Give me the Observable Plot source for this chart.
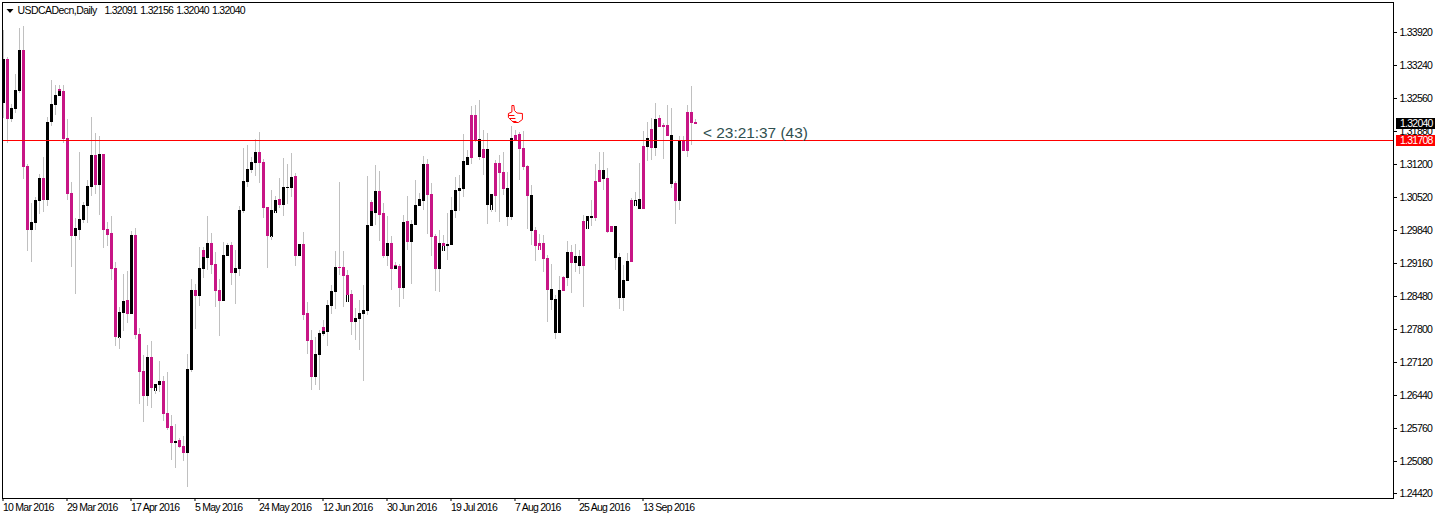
<!DOCTYPE html>
<html>
<head>
<meta charset="utf-8">
<style>html,body{margin:0;padding:0;background:#fff}svg{display:block}svg text{letter-spacing:-0.75px}svg .ohlc text{word-spacing:1px}svg .timer text{letter-spacing:0}svg .title text{letter-spacing:-0.55px}</style>
<script src="https://cdn.jsdelivr.net/npm/d3@7"></script>
<script src="https://cdn.jsdelivr.net/npm/@observablehq/plot@0.6"></script>
</head>
<body>
<div id="chart"></div>
<script>
// Prices are given in points (1e-5)
const direction = "BMBBBMMBBBMBBBBMMMBBBBBMBMMMMBBMBMMMBMBBMMMBMMBBMBBBMMMBBMBBBBBBMMMBBMBBBMBMMMBBBBBBMMMMBBBBBBMMBMBMBMBBBBMMMBBBBBBBBMMBMBBMMMBBMMMMBMMMMBBBMBMBBMBBMMBMMBBBBMBBMBMBMMMBMBMM";
const bodyTop = [133384,133384,132375,132745,133570,133570,131179,130025,130479,130932,130932,132086,132457,132642,132725,132725,131756,130623,129902,130087,130376,130767,131406,131406,131427,131427,129881,129799,129078,128171,128398,128418,129758,129758,127718,126955,127244,127244,126687,126749,126749,126090,125822,125513,125533,125410,126996,128624,128624,129078,129304,129593,129593,129160,128624,129345,129552,129552,129078,130273,130870,131118,131262,131468,131468,131262,130335,130273,130479,130499,130747,130747,130953,130973,129572,129572,128150,127594,127305,127738,127779,128315,128604,129098,129098,129098,128933,128542,128047,128150,128212,129964,130252,130664,130664,130211,129593,129593,129119,129119,130025,130046,129984,130376,130499,131221,131221,130602,129737,129593,129531,129572,130273,130685,130726,131282,131365,132230,132230,131736,131530,131530,130602,131241,131241,131056,130726,131756,131818,131839,131550,131179,130582,129861,129593,129593,129284,128645,128439,128624,128892,129407,129407,129325,129325,130046,130149,130149,130870,131097,131097,130932,129943,129943,129304,128830,129222,130479,130479,130499,131592,131756,131942,132148,132168,132024,132024,131818,130829,131695,131695,132292,132292,132091];
const bodyBottom = [132478,132148,132148,132354,132725,131159,129861,129861,130005,130458,130479,130479,132086,132436,132622,131736,130602,129737,129737,129861,130067,130355,130747,130788,130788,129861,129758,129057,127656,127635,128150,128130,128130,127697,126935,126440,126440,126605,126543,126667,126069,125781,125472,125472,125389,125265,125265,126976,128501,128501,129057,129284,129139,128604,128398,128398,129325,128975,128975,129057,130252,130850,131097,131241,131241,130314,129737,129716,130211,130376,130376,130726,130726,129325,129325,128109,127573,126832,126832,127285,127718,127759,128295,128583,129078,128913,128521,127965,127965,128027,128130,128192,129943,130211,130170,129325,129325,129057,129057,128665,128665,129613,129613,129964,130355,130458,130582,129716,129057,129057,129428,129531,129552,130252,130664,130705,131200,131344,131715,131365,131344,130376,130273,130561,131035,130705,130128,130128,131715,131530,131159,130561,129840,129531,129448,129263,128624,128418,127738,127738,128604,128872,129181,129181,129119,129119,129881,130108,130108,130850,130912,129819,129819,129284,128459,128459,128810,129201,130355,130293,130293,131571,131550,131550,131983,131983,131798,130808,130458,130458,131488,131488,132065,132040];
const high = [133982,133425,132457,133075,134023,134064,131221,130417,130541,131015,131365,132189,132952,132848,132848,132848,132148,130850,130108,131468,130438,130891,132189,131859,131798,131427,130025,130149,129201,128274,128954,129016,129840,129902,127841,127285,127491,127573,126687,127161,126852,126935,126049,125863,125575,125616,127305,128851,128748,129510,129510,130149,129799,129407,128851,129613,129593,129613,129448,130355,131550,131612,131365,131736,131880,131324,130335,130685,130561,130932,131344,131221,131447,131035,129572,129819,128377,127800,127656,127800,128006,128418,128727,129428,130850,129428,129036,128624,128253,128418,128727,130973,130479,131200,131076,130417,130149,129737,129201,129160,130170,130561,130067,130891,130623,131385,131324,130829,129778,129861,129758,130211,130541,130953,130994,131839,131509,132416,132436,132539,131921,131859,130602,131303,131406,131468,131056,132004,131921,131880,131901,131200,130788,129922,129778,129758,129345,129160,128521,128913,128913,129634,129552,129572,129448,130170,130149,130479,131221,131468,131468,131138,129943,129943,129387,129139,129387,130520,130644,131241,131901,132086,132168,132478,132230,132065,132436,132375,130870,131798,131798,132436,132828,132156];
const low = [132168,131653,132086,132272,132684,130912,129428,129201,129861,130190,130232,130355,132004,132230,132622,131653,130479,129098,128542,129655,130005,130005,130561,130602,130170,129490,129531,128830,127470,127409,127779,127944,128130,127615,126275,125904,126234,126193,126481,126522,125925,125739,125121,124956,125369,125101,124565,126935,127821,128295,128872,129036,128954,128274,127676,128398,129325,128727,128336,128913,130211,130747,131035,130973,130829,130108,129078,129655,130211,130314,130149,130396,130541,129119,129325,128006,127305,126564,126667,126564,127676,127470,128130,128233,128933,128274,128377,127697,127594,127388,126749,128109,129943,129964,129634,129284,129119,128624,129057,128274,128439,129448,128748,129964,130355,130273,129778,129325,128604,128583,129428,129242,129552,130108,130252,130541,131200,131221,131674,131303,130994,129984,130232,130232,130025,130582,129943,130067,131715,130891,131097,129881,129552,129222,129448,128995,127965,128212,127615,127738,128604,128707,128562,128995,128954,128274,129881,129943,130046,130850,130685,129799,129819,129036,128233,128192,128810,129201,130355,130293,130293,131282,131303,131385,131983,131324,131798,130726,129984,130273,131488,131365,131612,132040];
const capIndex = [14,50,80,92,98,110];
const capTop = [132766,129448,127862,130438,129139,129593];
const capBottom = [132725,129304,127779,130252,129119,129531];
const legIndex = [86];
const legTop = [128521];
const legBottom = [128377];
const notchIndex = [29,38,67,68,86,110,122,134,146,158];
const notchTop = [127656,126605,129737,130252,128521,129531,130376,129531,130046,130458];
const notchBottom = [127635,126543,129716,130211,128377,129428,130273,129448,129881,130355];

const xTickIndex = [0,16,32,48,64,80,96,112,128,144,160];
const xTickLabels = ["10 Mar 2016","29 Mar 2016","17 Apr 2016","5 May 2016","24 May 2016","12 Jun 2016","30 Jun 2016","19 Jul 2016","7 Aug 2016","25 Aug 2016","13 Sep 2016"];
const yTicks = [1.33920,1.33240,1.32560,1.31880,1.31200,1.30520,1.29840,1.29160,1.28480,1.27800,1.27120,1.26440,1.25760,1.25080,1.24420];
const lastPrice = 1.32040;
const linePrice = 1.31708;
const symbolTitle = "USDCADecn,Daily";
const ohlcTitle = "1.32091 1.32156 1.32040 1.32040";
const timerText = "< 23:21:37 (43)";

const p = v => v / 1e5;
const bars = bodyTop.map((t, i) => ({i, top: p(t), bottom: p(bodyBottom[i]), high: p(high[i]), low: p(low[i]), bull: direction[i] === "B"}));
const seg = (idx, a, b) => idx.map((i, k) => ({i, top: p(a[k]), bottom: p(b[k])}));
const caps = seg(capIndex, capTop, capBottom);
const legs = seg(legIndex, legTop, legBottom);
const notches = seg(notchIndex, notchTop, notchBottom);

const font = "'Liberation Sans',sans-serif";
const MAGENTA = "#c71585", GREY = "#c0c0c0";
const gutterA = 348.125, gutterB = 357.875, gutterText = 349;
const crisp = {shapeRendering: "crispEdges"};
const thumb = {draw(c) {
  c.moveTo(-3.5,-9);c.lineTo(-1.5,-9);c.lineTo(-1,-4);c.lineTo(1.5,-1.5);c.lineTo(7,-1);c.lineTo(7,5);c.lineTo(3,8);c.lineTo(-1.5,8);c.lineTo(-4,6);c.lineTo(-7,3);c.lineTo(-7,-1);c.lineTo(-3.5,-2.5);c.closePath();
  c.moveTo(-7,1);c.lineTo(-1,1);c.moveTo(-5.5,4);c.lineTo(0,4);c.moveTo(-3,7);c.lineTo(1,7);
}};
const tri = {draw(c) {c.moveTo(-3.5,-2);c.lineTo(3.5,-2);c.lineTo(0,2);c.closePath();}};

const chart = Plot.plot({
  width: 1436, height: 516,
  marginLeft: 2, marginTop: 2, marginRight: 43, marginBottom: 18,
  style: {background: "#fff", fontFamily: font, color: "#000"},
  x: {type: "linear", domain: [-0.875, 358.125], range: [0, 1436]},
  y: {type: "linear", domain: [1.23967, 1.346], range: [516, 0]},
  marks: [
    Plot.rect(bars, {x1: d => d.i - 0.125, x2: d => d.i + 0.125, y1: "high", y2: "low", fill: GREY, ...crisp}),
    Plot.rect(bars, {x1: d => d.i - 0.375, x2: d => d.i + 0.375, y1: "top", y2: "bottom", fill: d => d.bull ? "#000" : MAGENTA, ...crisp}),
    Plot.rect(caps, {x1: d => d.i - 0.375, x2: d => d.i + 0.375, y1: "top", y2: "bottom", fill: MAGENTA, ...crisp}),
    Plot.rect(legs, {x1: d => d.i - 0.375, x2: d => d.i + 0.375, y1: "top", y2: "bottom", fill: "#000", ...crisp}),
    Plot.rect(notches, {x1: d => d.i - 0.125, x2: d => d.i + 0.125, y1: "top", y2: "bottom", fill: "#fff", ...crisp}),
    Plot.ruleY([linePrice], {stroke: "#f00", strokeWidth: 1, ...crisp}),
    Plot.frame({stroke: "#000", strokeWidth: 1, fill: "none", ...crisp}),
    Plot.axisY(yTicks, {anchor: "right", tickSize: 3, tickPadding: 3, fontSize: 10.5, dy: -1, tickFormat: d => d.toFixed(5), label: null}),
    Plot.axisX(xTickIndex, {anchor: "bottom", tickSize: 3, tickPadding: 2, fontSize: 10.5, textAnchor: "start", dx: -1, tickFormat: d => xTickLabels[xTickIndex.indexOf(d)], label: null}),
    Plot.ruleY([lastPrice], {x1: gutterA, x2: gutterB, stroke: "#000", strokeWidth: 11, dy: -1, ...crisp}),
    Plot.ruleY([linePrice], {x1: gutterA, x2: gutterB, stroke: "#f00", strokeWidth: 11, ...crisp}),
    Plot.text([lastPrice], {x: gutterText, y: d => d, dy: -1, text: d => d.toFixed(5), fill: "#fff", fontSize: 10.5, textAnchor: "start"}),
    Plot.text([linePrice], {x: gutterText, y: d => d, text: d => d.toFixed(5), fill: "#fff", fontSize: 10.5, textAnchor: "start"}),
    Plot.text([timerText], {x: 174.75, y: 1.3187, text: d => d, fill: "#2f4f4f", fontSize: 15.4, textAnchor: "start", className: "timer"}),
    Plot.dot([[127.85, 1.32251]], {x: d => d[0], y: d => d[1], symbol: thumb, fill: "#fff", stroke: "#f00", strokeWidth: 1}),
    Plot.dot([0], {frameAnchor: "top-left", dx: 7.5, dy: 8.5, symbol: tri, fill: "#000", stroke: "none"}),
    Plot.text([symbolTitle], {frameAnchor: "top-left", dx: 15, dy: 8, text: d => d, fontSize: 10.5, lineAnchor: "middle", textAnchor: "start", fill: "#000", className: "title"}),
    Plot.text([ohlcTitle], {frameAnchor: "top-left", dx: 102, dy: 8, text: d => d, fontSize: 10.5, lineAnchor: "middle", textAnchor: "start", fill: "#000", className: "ohlc"})
  ]
});
document.getElementById("chart").appendChild(chart);
</script>
</body>
</html>
